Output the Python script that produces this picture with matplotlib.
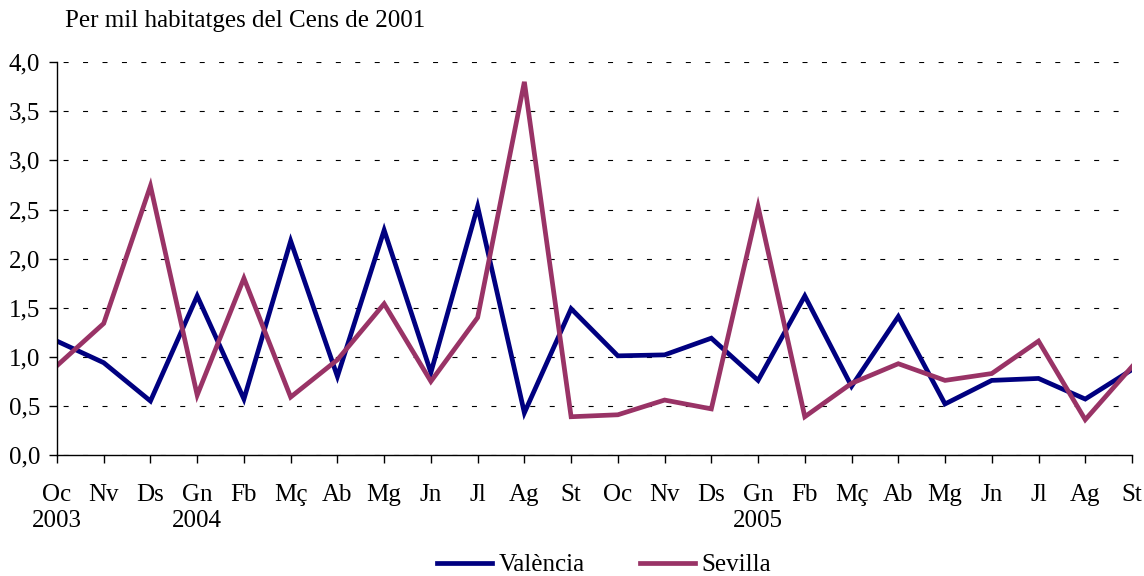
import matplotlib
matplotlib.use("Agg")
import matplotlib.pyplot as plt

months = ["Oc", "Nv", "Ds", "Gn", "Fb", "Mç", "Ab", "Mg", "Jn", "Jl", "Ag", "St",
          "Oc", "Nv", "Ds", "Gn", "Fb", "Mç", "Ab", "Mg", "Jn", "Jl", "Ag", "St"]
years = {0: "2003", 3: "2004", 15: "2005"}
valencia = [1.16, 0.94, 0.55, 1.62, 0.57, 2.18, 0.80, 2.29, 0.84, 2.53, 0.43, 1.49,
            1.01, 1.02, 1.19, 0.76, 1.62, 0.70, 1.41, 0.52, 0.76, 0.78, 0.57, 0.87]
sevilla = [0.91, 1.34, 2.74, 0.61, 1.80, 0.59, 0.97, 1.54, 0.75, 1.40, 3.80, 0.39,
           0.41, 0.56, 0.47, 2.53, 0.39, 0.73, 0.93, 0.76, 0.83, 1.16, 0.36, 0.90]
yticks = [0.0, 0.5, 1.0, 1.5, 2.0, 2.5, 3.0, 3.5, 4.0]

plt.rcParams['font.family'] = ['Liberation Serif', 'DejaVu Serif']
FS = 18

fig = plt.figure(figsize=(11.44, 5.76), dpi=100)
ax = fig.add_axes([0.0498, 0.210, 0.9397, 0.682])

x = list(range(len(months)))
ax.plot(x, valencia, color="#000080", lw=3.4, label="València", solid_joinstyle="miter")
ax.plot(x, sevilla, color="#993366", lw=3.4, label="Sevilla", solid_joinstyle="miter")

ax.set_xlim(0, len(months) - 1)
ax.set_ylim(0, 4.0)
ax.set_yticks(yticks)
ax.set_yticklabels([f"{v:.1f}".replace(".", ",") for v in yticks], fontsize=FS)
ax.set_xticks(x)
labels = [m + ("\n" + years[i] if i in years else "\n") for i, m in enumerate(months)]
ax.set_xticklabels(labels, fontsize=FS, linespacing=1.25)

ax.yaxis.grid(True, linestyle=(12, (4.5, 13)), color="black", lw=0.8)
ax.set_axisbelow(True)
for s in ["top", "right"]:
    ax.spines[s].set_visible(False)
ax.spines["left"].set_linewidth(1.0)
ax.spines["bottom"].set_linewidth(1.0)
ax.tick_params(axis="both", direction="out", length=6, width=1.0, color="black")
ax.tick_params(axis="x", pad=15)
ax.tick_params(axis="y", pad=6)

fig.text(0.057, 0.963, "Per mil habitatges del Cens de 2001", fontsize=FS, va="center", ha="left")

leg = fig.legend(loc="center", bbox_to_anchor=(0.528, 0.019), ncol=2, frameon=False,
                 fontsize=FS, handlelength=2.2, columnspacing=2.2, handletextpad=0.28)

fig.savefig("out.png", dpi=100)
